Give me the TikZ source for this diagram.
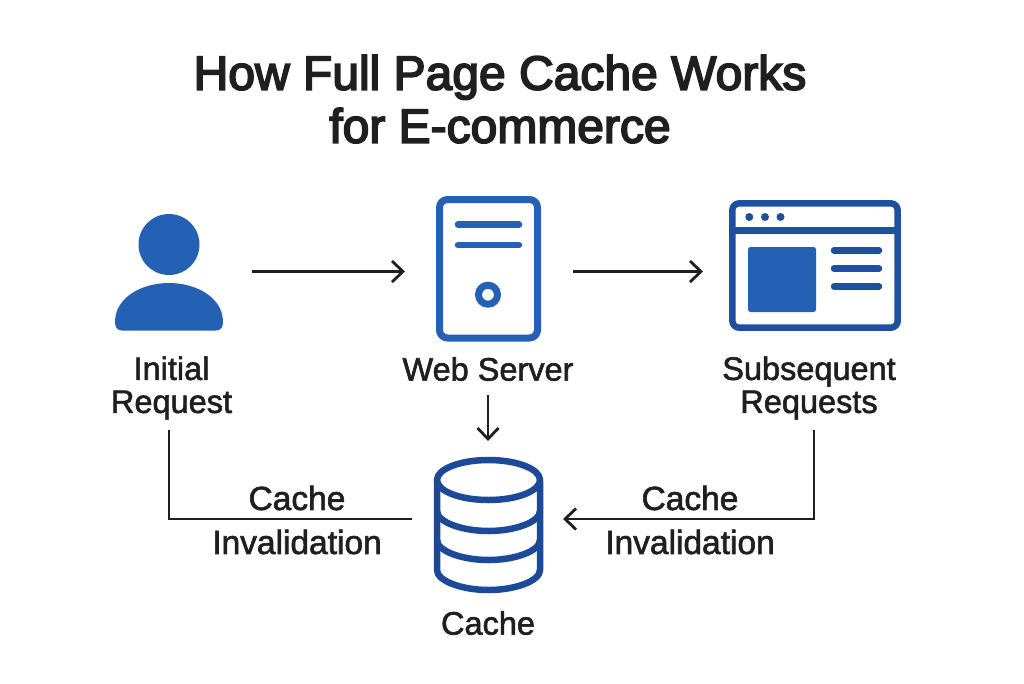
\documentclass[tikz,border=0pt]{standalone}
\usepackage{fontspec}
\setmainfont{Liberation Sans}
\newfontfamily\labelfont[FakeBold=1.8]{Liberation Sans}
\newfontfamily\titlefont[FakeBold=3.6]{Liberation Sans}
\usetikzlibrary{arrows.meta}
\definecolor{inkc}{HTML}{1F1F1F}
\definecolor{blueA}{HTML}{2460B4}
\definecolor{blueB}{HTML}{1F4F9F}
\definecolor{blueC}{HTML}{1C4A98}
\tikzset{
  x=1pt,y=-1pt,
  conn/.style={draw=inkc,line width=2.8pt,-{Straight Barb[length=11pt,width=21pt,line width=2.8pt]}},
  plainconn/.style={draw=inkc,line width=2.8pt},
  icon/.style={inner sep=0pt,outer sep=0pt,draw=none},
  lbl/.style={font=\labelfont\fontsize{32.5}{33}\selectfont,text=inkc,inner sep=0pt,align=center},
  edgelbl/.style={font=\labelfont\fontsize{33.5}{44}\selectfont,text=inkc,inner sep=0pt,align=center},
  ttl/.style={font=\titlefont\fontsize{48}{53}\selectfont,text=inkc,inner sep=0pt,align=center},
  outline/.style={line width=7pt,line join=round,rounded corners=8pt},
  bar/.style={line width=6.5pt,line cap=round},
}
\begin{document}
\begin{tikzpicture}
\useasboundingbox[fill=white] (0,0) rectangle (1024,683);
\node[ttl] (title) at (500,99) {How Full Page Cache Works\\for E-commerce};
% anchor nodes of icons
\node[icon,minimum width=108pt,minimum height=118pt] (user) at (169,271.5) {};
\node[icon,minimum width=105pt,minimum height=145pt] (server) at (488.5,268.5) {};
\node[icon,minimum width=172pt,minimum height=131pt] (window) at (815,265.5) {};
\node[icon,minimum width=109pt,minimum height=136pt] (db) at (488.5,525) {};
% user
\fill[blueA] (169,244.5) circle[radius=30.5];
\fill[blueA] (122,330.5) -- (216,330.5) .. controls (221,330.5) and (223,327) .. (223,322)
  .. controls (223,298) and (197,283) .. (169,283)
  .. controls (141,283) and (115,298) .. (115,322)
  .. controls (115,327) and (117,330.5) .. (122,330.5) -- cycle;
% server
\draw[blueA,outline] (439.5,199.5) rectangle (537.5,338);
\draw[blueA,bar] (458,224.5) -- (519,224.5);
\draw[blueA,bar] (458,245) -- (519,245);
\draw[blueA,line width=7pt] (488,294.7) circle[radius=9.5];
% window
\draw[blueB,line width=6.5pt,line join=round,rounded corners=7pt] (732.3,203.3) rectangle (897.7,327.7);
\draw[blueB,line width=6.5pt] (732,230.5) -- (898,230.5);
\fill[blueB] (749.3,217) circle[radius=4] (765,217) circle[radius=4] (780.5,217) circle[radius=4];
\fill[blueA,rounded corners=2.5pt] (748,247) rectangle (816,312);
\draw[blueB,bar] (834,250.5) -- (879,250.5);
\draw[blueB,bar] (834,268.5) -- (879,268.5);
\draw[blueB,bar] (834,286.5) -- (879,286.5);
% database
\draw[blueC,line width=6.5pt] (488.5,480) ellipse[x radius=51.5,y radius=20];
\draw[blueC,line width=6.5pt,line cap=round] (437,482) -- (437,570)
  .. controls (437,581) and (462,590) .. (488.5,590)
  .. controls (515,590) and (540,581) .. (540,570) -- (540,482);
\draw[blueC,line width=6.5pt] (437,511) .. controls (437,522) and (462,531) .. (488.5,531)
  .. controls (515,531) and (540,522) .. (540,511);
\draw[blueC,line width=6.5pt] (437,540) .. controls (437,551) and (462,560) .. (488.5,560)
  .. controls (515,560) and (540,551) .. (540,540);
% labels
\node[lbl] (initial) at (171.5,388) {Initial\\Request};
\node[lbl] (web) at (488,369) {Web Server};
\node[lbl] (subs) at (809,388) {Subsequent\\Requests};
\node[lbl] (cachelbl) at (488,623) {Cache};
\node[edgelbl] (invL) at (297,520) {Cache\\Invalidation};
\node[edgelbl] (invR) at (690,520) {Cache\\Invalidation};
% connectors
\draw[conn,shorten <=29pt,shorten >=31pt] (user.east) -- (user.east -| server.west);
\draw[conn,shorten <=32pt,shorten >=26pt] (server.east |- user.east) -- (user.east -| window.west);
\draw[conn,shorten <=14pt,shorten >=16pt] (web.south) -- (web.south |- db.north);
\draw[conn,shorten <=10pt,shorten >=20pt] ([xshift=5pt]subs.south) |- ([yshift=6pt]db.east);
\draw[plainconn,shorten <=10pt,shorten >=22pt] ([xshift=-2.5pt]initial.south) |- ([yshift=6pt]db.west);
\end{tikzpicture}
\end{document}
